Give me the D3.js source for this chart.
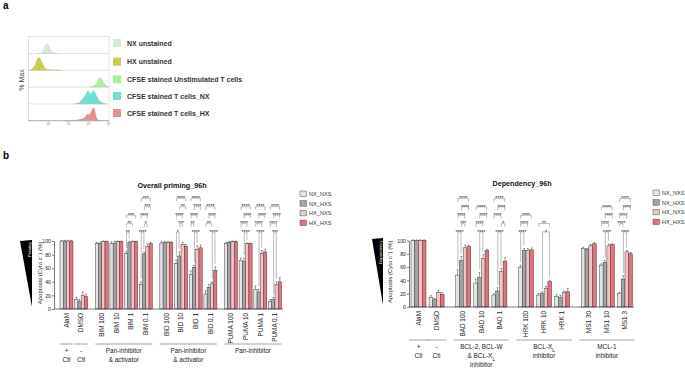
<!DOCTYPE html>
<html><head><meta charset="utf-8">
<script src="https://cdn.jsdelivr.net/npm/d3@7/dist/d3.min.js"></script>
<style>body{margin:0;background:#fff}svg{display:block;font-family:"Liberation Sans",Arial,sans-serif}</style>
</head><body>
<script>
// ---------- Panel a data ----------
const histNames = ["NX unstained","HX unstained","CFSE stained Unstimulated T cells","CFSE stained T cells_NX","CFSE stained T cells_HX"];
const histColors = ["#d5ead5","#c8ce4e","#a8f39a","#72ded0","#e68e8e"];
const histStroke = ["#b9d2b9","#aeb43a","#86d879","#52c2b4","#cf6f6f"];
const histTickLabels = ["10²","10³","10⁴","10⁵"];
const histTickValues = [2,3,4,5];
const hist1 = [[1.4,0],[1.6,3],[1.75,20],[1.85,48],[1.92,60],[2.0,46],[2.1,20],[2.25,6],[2.4,2],[2.6,0]];
const hist2 = [[1.05,0],[1.2,8],[1.35,35],[1.47,70],[1.53,76],[1.6,64],[1.72,34],[1.85,12],[2.0,4],[2.3,1],[2.6,0]];
const hist3 = [[4.05,0],[4.2,4],[4.35,16],[4.45,38],[4.55,57],[4.65,45],[4.75,24],[4.87,8],[4.95,2],[5.0,0]];
const hist4 = [[3.3,0],[3.45,4],[3.6,15],[3.72,33],[3.85,55],[3.95,77],[4.02,70],[4.1,55],[4.17,70],[4.23,79],[4.32,62],[4.45,30],[4.6,10],[4.75,2],[4.85,0]];
const hist5 = [[2.8,0],[3.1,1],[3.4,3],[3.6,8],[3.8,18],[3.95,38],[4.02,35],[4.1,46],[4.2,72],[4.25,75],[4.32,45],[4.4,12],[4.5,2],[4.6,0]];
const histData = [hist1,hist2,hist3,hist4,hist5];

// ---------- Panel b data ----------
const seriesNames = ["NX_NXS","NX_HXS","HX_NXS","HX_HXS"];
const seriesFill = ["#e4e4e4","#a3a3a3","#f3c3c5","#e5717c"];

const leftCats = ["AlaM","DMSO","BIM 100","BIM 10","BIM 1","BIM 0.1","BID 100","BID 10","BID 1","BID 0.1","PUMA 100","PUMA 10","PUMA 1","PUMA 0.1"];
const leftFamily = [0,1,2,2,2,2,3,3,3,3,4,4,4,4];
const leftNX_NXS = [100,14,96,96,82,36,97,67,51,22,96,71,29,11];
const leftNX_HXS = [100,11,96,97,98,81,98,78,61,32,98,70,25,14];
const leftHX_NXS = [100,20,99,99,99,92,98,95,88,37,99,96,82,36];
const leftHX_HXS = [100,18,99,99,99,96,98,92,90,57,99,96,84,40];
const leftSD_NX_NXS = [1,3,2,3,3,4,2,5,5,5,2,4,5,3];
const leftSD_NX_HXS = [1,3,2,3,2,3,1,6,3,4,1,5,4,3];
const leftSD_HX_NXS = [1,5,1,1,1,3,1,3,5,3,1,1,4,4];
const leftSD_HX_HXS = [1,4,1,1,1,2,1,3,4,5,1,1,4,6];
const leftFamilyLabels = [["+","Ctl"],["-","Ctl"],["Pan-inhibitor","& activator"],["Pan-inhibitor","& activator"],["Pan-inhibitor"]];
const leftSig = {
  "BIM 1":[[0,1,"**"],[0,2,"**"],[0,3,"***"]],
  "BIM 0.1":[[0,1,"****"],[1,2,"*"],[0,2,"****"],[1,3,"***"],[0,3,"***"]],
  "BID 10":[[0,1,"*"],[1,2,"***"],[0,2,"****"],[1,3,"**"],[0,3,"****"]],
  "BID 1":[[1,2,"****"],[0,1,"**"],[0,2,"****"],[1,3,"****"],[0,3,"****"]],
  "BID 0.1":[[2,3,"****"],[0,2,"**"],[1,3,"****"],[0,3,"****"]],
  "PUMA 10":[[1,2,"****"],[0,2,"****"],[1,3,"****"],[0,3,"****"]],
  "PUMA 1":[[1,2,"****"],[0,2,"****"],[1,3,"****"],[0,3,"****"]],
  "PUMA 0.1":[[1,2,"***"],[0,2,"****"],[1,3,"****"],[0,3,"****"]]
};

const rightCats = ["AlaM","DMSO","BAD 100","BAD 10","BAD 1","HRK 100","HRK 10","HRK 1","MS1 30","MS1 10","MS1 3"];
const rightFamily = [0,1,2,2,2,3,3,3,4,4,4];
const rightNX_NXS = [100,14,48,36,18,60,18,16,88,63,20];
const rightNX_HXS = [100,11,70,44,24,85,20,14,87,67,42];
const rightHX_NXS = [100,22,89,73,53,85,28,22,92,92,83];
const rightHX_HXS = [100,19,91,85,69,86,38,23,95,94,80];
const rightSD_NX_NXS = [1,3,8,6,2,3,2,3,2,2,2];
const rightSD_NX_HXS = [1,2,6,8,5,3,3,4,1,3,5];
const rightSD_HX_NXS = [1,3,4,6,5,3,3,2,2,3,2];
const rightSD_HX_HXS = [1,3,2,2,5,3,2,5,2,1,2];
const rightFamilyLabels = [["+","Ctl"],["-","Ctl"],["BCL-2, BCL-W","& BCL-X_L","inhibitor"],["BCL-X_L","inhibitor"],["MCL-1","inhibitor"]];
const rightSig = {
  "BAD 100":[[0,1,"****"],[1,2,"***"],[0,2,"****"],[1,3,"****"],[0,3,"****"]],
  "BAD 10":[[1,2,"****"],[0,2,"****"],[1,3,"****"],[0,3,"****"]],
  "BAD 1":[[1,2,"****"],[2,3,"*"],[0,2,"****"],[1,3,"****"],[0,3,"****"]],
  "HRK 100":[[0,1,"****"],[0,2,"****"],[0,3,"****"]],
  "HRK 10":[[1,3,"*"],[0,3,"**"]],
  "MS1 10":[[1,2,"****"],[0,2,"****"],[1,3,"****"],[0,3,"****"]],
  "MS1 3":[[1,2,"****"],[0,1,"****"],[0,2,"****"],[1,3,"****"],[0,3,"****"]]
};
const yTicks = [0,20,40,60,80,100];

const svg = d3.select("body").append("svg").attr("width",685).attr("height",369);

// ---------- Panel a ----------
svg.append("text").attr("x",3).attr("y",9).attr("font-size",10).attr("font-weight","bold").text("a");
const hx = d3.scaleLinear().domain([1,5]).range([28.3,109]);
const rowTop = 36.7, rowH = 16.8;
const ga = svg.append("g");
histData.forEach((d,k)=>{
  const bottom = rowTop + (k+1)*rowH;
  const hy = d3.scaleLinear().domain([0,100]).range([bottom, bottom-rowH]);
  const area = d3.area().x(p=>hx(p[0])).y0(bottom).y1(p=>hy(p[1])).curve(d3.curveMonotoneX);
  ga.append("path").attr("d",area(d)).attr("fill",histColors[k]).attr("stroke",histStroke[k]).attr("stroke-width",0.4);
  ga.append("line").attr("x1",hx(1)).attr("x2",hx(5)).attr("y1",bottom).attr("y2",bottom).attr("stroke","#cfcfcf").attr("stroke-width",0.6);
});
ga.append("rect").attr("x",hx(1)).attr("y",rowTop).attr("width",hx(5)-hx(1)).attr("height",5*rowH).attr("fill","none").attr("stroke","#cfcfcf").attr("stroke-width",0.6);
ga.append("line").attr("x1",hx(1)).attr("x2",hx(5)).attr("y1",rowTop+5*rowH).attr("y2",rowTop+5*rowH).attr("stroke","#999").attr("stroke-width",0.6);
histTickValues.forEach((v,i)=>{
  ga.append("line").attr("x1",hx(v)).attr("x2",hx(v)).attr("y1",rowTop+5*rowH).attr("y2",rowTop+5*rowH+1.5).attr("stroke","#999").attr("stroke-width",0.5);
  ga.append("text").attr("x",hx(v)).attr("y",rowTop+5*rowH+4.5).attr("font-size",3).attr("fill","#777").attr("text-anchor","middle").text(histTickLabels[i]);
});
ga.append("text").attr("transform","translate(24,80) rotate(-90)").attr("text-anchor","middle").attr("font-size",7).attr("fill","#444").text("% Max");
const legY = [43,61.7,79.3,96,113];
histNames.forEach((n,k)=>{
  ga.append("rect").attr("x",113).attr("y",legY[k]-4).attr("width",8).attr("height",8).attr("fill",histColors[k]);
  ga.append("text").attr("x",127).attr("y",legY[k]+2.5).attr("font-size",7).attr("font-weight","bold").attr("fill","#333").text(n);
});

// ---------- Panel b ----------
svg.append("text").attr("x",3).attr("y",159).attr("font-size",10).attr("font-weight","bold").text("b");

function addSubText(sel, str){
  const parts = str.split("_");
  sel.append("tspan").text(parts[0]);
  if(parts.length>1){
    sel.append("tspan").attr("baseline-shift","sub").attr("font-size","0.75em").text(parts[1]);
  }
}

function drawChart(cfg){
  const g = svg.append("g");
  const pos = cfg.cats.map((c,i)=> i + cfg.gap*Math.max(0,cfg.family[i]-1));
  const x = d3.scaleLinear().domain([0,d3.max(pos)]).range([cfg.firstCenter,cfg.lastCenter]);
  const step = x(1)-x(0);
  const groupW = step*cfg.frac;
  const inner = d3.scaleBand().domain(d3.range(4)).range([-groupW/2, groupW/2]).padding(0);
  const y = d3.scaleLinear().domain([0,100]).range([cfg.y0,cfg.y100]);

  cfg.series.forEach((vals,s)=>{
    vals.forEach((v,i)=>{
      const bx = x(pos[i]) + inner(s);
      g.append("rect").attr("x",bx).attr("y",y(v)).attr("width",inner.bandwidth()).attr("height",y(0)-y(v))
        .attr("fill",seriesFill[s]).attr("stroke","#333").attr("stroke-width",0.45);
      const sd = cfg.sds[s][i];
      const cx = bx + inner.bandwidth()/2;
      g.append("line").attr("x1",cx).attr("x2",cx).attr("y1",y(v)).attr("y2",y(v+sd)).attr("stroke","#222").attr("stroke-width",0.45);
      g.append("line").attr("x1",cx-0.9).attr("x2",cx+0.9).attr("y1",y(v+sd)).attr("y2",y(v+sd)).attr("stroke","#222").attr("stroke-width",0.45);
    });
  });

  const ya = d3.axisLeft(y).tickValues(yTicks).tickSize(2).tickSizeOuter(0).tickPadding(1);
  const yg = g.append("g").attr("transform",`translate(${cfg.axisX},0)`).call(ya);
  yg.select(".domain").attr("stroke","#222").attr("stroke-width",0.6);
  yg.selectAll(".tick line").attr("stroke","#222").attr("stroke-width",0.6);
  yg.selectAll(".tick text").attr("font-size",5.2).attr("fill","#222").attr("font-family","Liberation Sans, Arial, sans-serif");
  g.append("line").attr("x1",cfg.axisX).attr("x2",cfg.xEnd).attr("y1",cfg.y0).attr("y2",cfg.y0).attr("stroke","#222").attr("stroke-width",0.6);

  cfg.cats.forEach((c,i)=>{
    g.append("text").attr("transform",`translate(${x(pos[i])+2.2},${cfg.y0+4}) rotate(-90)`)
      .attr("text-anchor","end").attr("font-size",6.4).attr("fill","#222").text(c);
  });

  const yl = g.append("text").attr("transform",`translate(${cfg.yLabelX},${(cfg.y0+cfg.y100)/2-2}) rotate(-90)`)
    .attr("text-anchor","middle").attr("font-size",6).attr("fill","#222");
  yl.append("tspan").text("Apoptosis (Cyto c");
  yl.append("tspan").attr("baseline-shift","super").attr("font-size","0.7em").text("−");
  yl.append("tspan").text(") (%)");

  const t = cfg.tri;
  g.append("path").attr("d",`M${t[0]},${t[2]}L${t[1]},${t[2]-1}L${t[1]},${t[3]}Z`).attr("fill","#000");
  g.append("text").attr("transform",`translate(${t[1]-1.3},${t[2]+1.5}) rotate(-90)`).attr("text-anchor","end")
    .attr("font-size",4.2).attr("fill","#fff").text(cfg.triText);

  g.append("text").attr("x",cfg.titleX).attr("y",cfg.titleY).attr("text-anchor","middle").attr("font-size",7.2)
    .attr("font-weight","bold").attr("fill","#111").text(cfg.title);

  seriesNames.forEach((n,s)=>{
    const ly = cfg.legY + s*cfg.legStep;
    g.append("rect").attr("x",cfg.legX).attr("y",ly-3).attr("width",6.5).attr("height",5.5).attr("fill",seriesFill[s]).attr("stroke","#444").attr("stroke-width",0.45);
    g.append("text").attr("x",cfg.legX+9).attr("y",ly+2).attr("font-size",5.6).attr("fill","#333").text(n);
  });

  const fams = d3.groups(cfg.cats.map((c,i)=>({i,f:cfg.family[i]})), d=>d.f);
  fams.forEach(([f,items])=>{
    const i0 = items[0].i, i1 = items[items.length-1].i;
    const xa = x(pos[i0]) - groupW/2 - cfg.famPad, xb = x(pos[i1]) + groupW/2 + cfg.famPad;
    g.append("line").attr("x1",xa).attr("x2",xb).attr("y1",cfg.famLineY).attr("y2",cfg.famLineY).attr("stroke","#666").attr("stroke-width",0.6);
    cfg.famLabels[f].forEach((l,k)=>{
      const tx = g.append("text").attr("x",(xa+xb)/2).attr("y",cfg.famTextY+k*cfg.famLineH).attr("text-anchor","middle")
        .attr("font-size",6.4).attr("fill","#222");
      addSubText(tx,l);
    });
  });

  Object.entries(cfg.sig).forEach(([cat,list])=>{
    const i = cfg.cats.indexOf(cat);
    const cxOf = s => x(pos[i]) + inner(s) + inner.bandwidth()/2;
    list.forEach(([a,b,lab],k)=>{
      const lvl = y(113 + 12.5*k);
      const xa = cxOf(a)+0.3, xb = cxOf(b)-0.3;
      let la, lb;
      if(k===0){
        la = y(cfg.series[a][i] + cfg.sds[a][i]) - 3;
        lb = y(cfg.series[b][i] + cfg.sds[b][i]) - 3;
      } else { la = lvl + 3.2; lb = lvl + 3.2; }
      g.append("path").attr("d",`M${xa},${la}L${xa},${lvl}L${xb},${lvl}L${xb},${lb}`)
        .attr("fill","none").attr("stroke","#666").attr("stroke-width",0.45);
      g.append("text").attr("x",(xa+xb)/2).attr("y",lvl+1.7).attr("text-anchor","middle").attr("font-size",5.2)
        .attr("fill","#222").text(lab);
    });
  });
}

drawChart({
  cats:leftCats, family:leftFamily,
  series:[leftNX_NXS,leftNX_HXS,leftHX_NXS,leftHX_HXS],
  sds:[leftSD_NX_NXS,leftSD_NX_HXS,leftSD_HX_NXS,leftSD_HX_HXS],
  sig:leftSig, famLabels:leftFamilyLabels,
  gap:0.4, firstCenter:66.5, lastCenter:275, frac:0.885,
  y0:309, y100:241, axisX:54, xEnd:283,
  yLabelX:42, tri:[20,32,241,307], triText:"Priming",
  title:"Overall priming_96h", titleX:172, titleY:188,
  legX:300, legY:194, legStep:9.7,
  famLineY:344, famTextY:353, famLineH:9, famPad:0
});
drawChart({
  cats:rightCats, family:rightFamily,
  series:[rightNX_NXS,rightNX_HXS,rightHX_NXS,rightHX_HXS],
  sds:[rightSD_NX_NXS,rightSD_NX_HXS,rightSD_HX_NXS,rightSD_HX_HXS],
  sig:rightSig, famLabels:rightFamilyLabels,
  gap:0.47, firstCenter:418.5, lastCenter:625, frac:0.83,
  y0:307, y100:240.5, axisX:409, xEnd:634,
  yLabelX:392, tri:[372,383,239,305], triText:"Dependency",
  title:"Dependency_96h", titleX:522, titleY:186,
  legX:653, legY:193, legStep:9.7,
  famLineY:340, famTextY:348.5, famLineH:9.3, famPad:2
});
</script>
</body></html>
